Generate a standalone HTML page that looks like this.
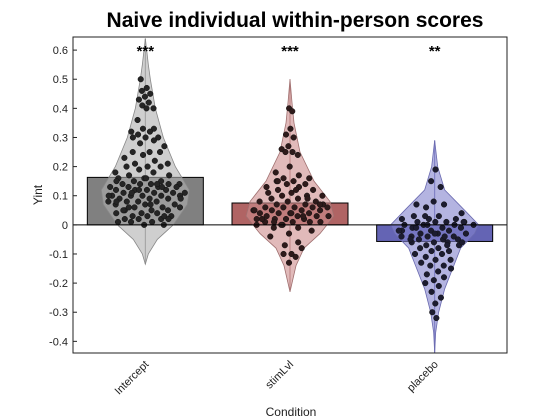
<!DOCTYPE html>
<html><head><meta charset="utf-8"><style>
body{margin:0;background:#fff;}
svg{display:block;font-family:"Liberation Sans",sans-serif;}
</style></head><body>
<svg id="chart" width="560" height="420">
<rect width="560" height="420" fill="#fff"/>
<text x="295" y="27" text-anchor="middle" font-size="21" font-weight="bold">Naive individual within-person scores</text>
<g id="plot"></g>
<text x="291" y="416" text-anchor="middle" font-size="12" fill="#222">Condition</text>
<text transform="translate(42,195) rotate(-90)" text-anchor="middle" font-size="12" fill="#222">Yint</text>
</svg>
<script>
const categories=["Intercept","stimLvl","placebo"];
const barValues=[0.163,0.075,-0.057];
const sigLabels=["***","***","**"];
const yTicks=[0.6,0.5,0.4,0.3,0.2,0.1,0,-0.1,-0.2,-0.3,-0.4];
const yTickLabels=["0.6","0.5","0.4","0.3","0.2","0.1","0","-0.1","-0.2","-0.3","-0.4"];
const violinLevels0=[0.64,0.55,0.5,0.4,0.3,0.2,0.12,0.07,0.0,-0.05,-0.1,-0.135];
const violinWidths0=[0,3,5,10,18,30,44,42,28,12,3,0];
const violinLevels1=[0.5,0.42,0.35,0.25,0.15,0.08,0.03,-0.03,-0.08,-0.14,-0.2,-0.23];
const violinWidths1=[0,2,4,10,24,40,44,30,14,6,2,0];
const violinLevels2=[0.29,0.2,0.12,0.05,0.0,-0.03,-0.08,-0.15,-0.22,-0.3,-0.37,-0.44];
const violinWidths2=[0,3,10,30,44,40,26,18,10,4,1,0];
const points0=[0.5,0.47,0.46,0.45,0.44,0.43,0.42,0.41,0.4,0.4,0.36,0.33,0.33,0.32,0.32,0.31,0.3,0.3,0.3,0.29,0.28,0.27,0.25,0.25,0.25,0.24,0.23,0.22,0.21,0.21,0.2,0.2,0.2,0.19,0.18,0.18,0.17,0.17,0.16,0.16,0.15,0.15,0.14,0.14,0.14,0.14,0.14,0.13,0.13,0.13,0.13,0.12,0.12,0.12,0.12,0.11,0.11,0.11,0.11,0.1,0.1,0.1,0.1,0.1,0.09,0.09,0.09,0.08,0.08,0.08,0.08,0.07,0.07,0.07,0.06,0.06,0.06,0.05,0.05,0.05,0.04,0.04,0.04,0.03,0.03,0.03,0.02,0.02,0.02,0.01,0.01,0.01,0.0,0.0,0.15,0.13,0.11,0.09,0.07,0.05,0.03,0.12,0.1,0.14,0.06,0.02,0.16,0.08];
const points1=[0.4,0.39,0.33,0.31,0.3,0.27,0.26,0.25,0.25,0.24,0.2,0.18,0.17,0.16,0.16,0.15,0.15,0.14,0.14,0.13,0.13,0.12,0.12,0.11,0.11,0.1,0.1,0.1,0.09,0.09,0.08,0.08,0.08,0.07,0.07,0.07,0.06,0.06,0.06,0.06,0.05,0.05,0.05,0.05,0.04,0.04,0.04,0.04,0.03,0.03,0.03,0.03,0.02,0.02,0.02,0.02,0.01,0.01,0.01,0.01,0.0,0.0,-0.01,-0.01,-0.02,-0.03,-0.04,-0.06,-0.07,-0.08,-0.1,-0.1,-0.11,-0.13,0.05,0.03,0.01,0.07,0.04,0.02,0.09,0.0,0.06,0.12,0.15];
const points2=[0.19,0.15,0.13,0.08,0.07,0.07,0.06,0.04,0.03,0.03,0.02,0.02,0.02,0.01,0.01,0.01,0.01,0.0,0.0,0.0,0.0,-0.01,-0.01,-0.01,-0.02,-0.02,-0.02,-0.03,-0.03,-0.03,-0.04,-0.04,-0.04,-0.04,-0.05,-0.05,-0.05,-0.06,-0.06,-0.06,-0.07,-0.07,-0.08,-0.08,-0.09,-0.09,-0.1,-0.1,-0.11,-0.12,-0.12,-0.13,-0.14,-0.14,-0.15,-0.16,-0.17,-0.18,-0.19,-0.2,-0.21,-0.23,-0.25,-0.27,-0.3,-0.32,0.0,-0.02,-0.04,-0.01,0.01,-0.03,-0.05,-0.07,0.03,-0.06];
const violinLevels=[violinLevels0,violinLevels1,violinLevels2];
const violinWidths=[violinWidths0,violinWidths1,violinWidths2];
const points=[points0,points1,points2];

const L=73,R=507,T=37,B=353,yMax=0.645,yMin=-0.44;
const y=v=>T+(yMax-v)/(yMax-yMin)*(B-T);
const x=i=>L+(i+0.5)*(R-L)/categories.length;
const ns="http://www.w3.org/2000/svg";
const g=document.getElementById("plot");
function mk(t,a){const e=document.createElementNS(ns,t);for(const k in a)e.setAttribute(k,a[k]);return e;}
function widthAt(ci,v){const lv=violinLevels[ci],w=violinWidths[ci];for(let k=0;k<lv.length-1;k++){if(v<=lv[k]&&v>=lv[k+1]){const f=(lv[k]-v)/(lv[k]-lv[k+1]);return w[k]+(w[k+1]-w[k])*f;}}return 0;}
const barFill=["#808080","#b06464","#6464b4"];
const violFill=["rgba(175,175,175,0.6)","rgba(205,140,140,0.6)","rgba(130,130,205,0.6)"];
const violEdge=["#888","#a07070","#6a6ab0"];
const dotFill=["#252525","#2e1a1a","#1c1c30"];
const bw=116;
for(let ci=0;ci<categories.length;ci++){
  const cx=x(ci);
  const lv=violinLevels[ci],w=violinWidths[ci];
  const bar=mk("rect",{x:cx-bw/2,y:Math.min(y(barValues[ci]),y(0)),width:bw,height:Math.abs(y(barValues[ci])-y(0)),fill:barFill[ci],stroke:"#000","stroke-width":1});
  
  
  g.appendChild(bar);
  const ln=mk("line",{x1:cx,x2:cx,y1:y(lv[0]),y2:y(lv[lv.length-1]),stroke:violEdge[ci],"stroke-width":1});
  
  
  g.appendChild(ln);
  let d="";
  for(let k=0;k<lv.length;k++)d+=(k?"L":"M")+(cx+w[k])+","+y(lv[k]);
  for(let k=lv.length-1;k>=0;k--)d+="L"+(cx-w[k])+","+y(lv[k]);
  const vio=mk("path",{d:d+"Z",fill:violFill[ci],stroke:violEdge[ci],"stroke-width":0.8});
  
  
  g.appendChild(vio);
  points[ci].forEach((v,i)=>{
    const h=((i*0.6180339+ci*0.31)%1)*2-1;
    const c=mk("circle",{cx:cx+h*widthAt(ci,v)*0.92,cy:y(v),r:2.8,fill:dotFill[ci],stroke:"#111","stroke-width":0.5});
    
    
    g.appendChild(c);
  });
  const s=mk("text",{x:cx,y:y(0.6)+6,"text-anchor":"middle","font-size":15,"font-weight":"bold"});
  s.textContent=sigLabels[ci];
  
  
  g.appendChild(s);
  const tl=mk("text",{transform:`translate(${cx+4},${B+12}) rotate(-45)`,"text-anchor":"end","font-size":11,fill:"#222"});
  tl.textContent=categories[ci];
  
  
  g.appendChild(tl);
}
const zl=mk("line",{x1:L,x2:R,y1:y(0),y2:y(0),stroke:"#000","stroke-width":1});


g.appendChild(zl);
const ax=mk("rect",{x:L,y:T,width:R-L,height:B-T,fill:"none",stroke:"#222","stroke-width":1});


g.appendChild(ax);
yTicks.forEach((v,i)=>{
  const tk=mk("line",{x1:L,x2:L+4,y1:y(v),y2:y(v),stroke:"#222"});
  
  
  g.appendChild(tk);
  const t=mk("text",{x:L-5,y:y(v)+4,"text-anchor":"end","font-size":11,fill:"#222"});
  t.textContent=yTickLabels[i];
  
  
  g.appendChild(t);
});
</script>
</body></html>
